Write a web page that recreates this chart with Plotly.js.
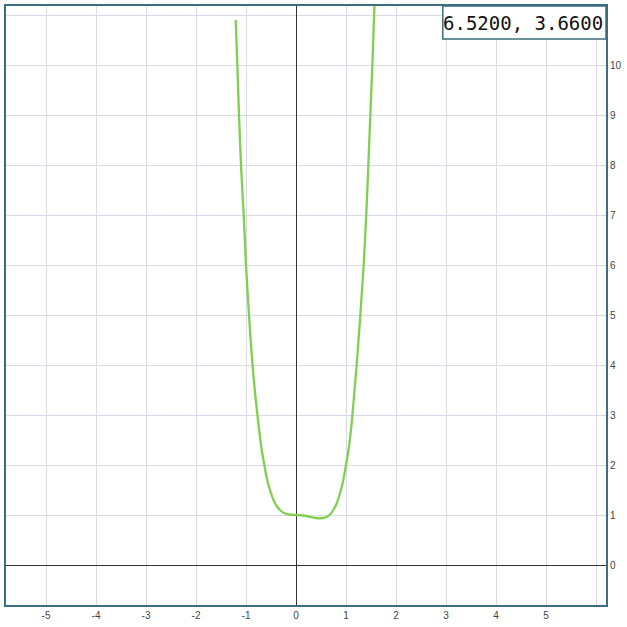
<!DOCTYPE html>
<html>
<head>
<meta charset="utf-8">
<script src="https://cdn.plot.ly/plotly-3.0.1.min.js"></script>
<style>html,body{margin:0;padding:0;background:#fff;}#chart{width:627px;height:627px;}</style>
</head>
<body>
<div id="chart"></div>
<script>
// Curve points
const curveX = [-1.206, -1.173, -1.14, -1.10, -1.046, -1.0, -0.94, -0.874, -0.82, -0.76, -0.70, -0.634, -0.58, -0.52, -0.45, -0.387, -0.30, -0.22, -0.1, 0, 0.1, 0.2, 0.3, 0.4, 0.5, 0.6, 0.68, 0.74, 0.8, 0.87, 0.94, 1.0, 1.05, 1.1, 1.15, 1.213, 1.287, 1.353, 1.405, 1.447, 1.487, 1.527, 1.567, 1.58];
const curveY = [10.9, 10.0, 9.0, 8.0, 7.0, 6.0, 5.0, 4.05, 3.45, 2.9, 2.4, 2.0, 1.72, 1.5, 1.3, 1.18, 1.08, 1.03, 1.005, 1.0, 0.995, 0.98, 0.96, 0.94, 0.935, 0.955, 1.01, 1.09, 1.2, 1.4, 1.67, 2.0, 2.3, 2.7, 3.25, 4.0, 5.0, 6.0, 7.0, 8.0, 9.0, 10.0, 11.13, 11.5];

const xTickVals = [-5, -4, -3, -2, -1, 0, 1, 2, 3, 4, 5, 6];
const xTickText = ['-5', '-4', '-3', '-2', '-1', '0', '1', '2', '3', '4', '5', ''];
const yTickVals = [0, 1, 2, 3, 4, 5, 6, 7, 8, 9, 10, 11];
const yTickText = ['0', '1', '2', '3', '4', '5', '6', '7', '8', '9', '10', ''];
const readout = '6.5200, 3.6600';

const trace = {
  x: curveX, y: curveY, type: 'scatter', mode: 'lines',
  line: {color: '#7fd04e', width: 2.3, shape: 'spline', smoothing: 0.6},
  hoverinfo: 'none'
};

const layout = {
  width: 627, height: 627,
  margin: {l: 6, r: 21, t: 6, b: 22, pad: 0},
  paper_bgcolor: '#ffffff', plot_bgcolor: '#ffffff',
  showlegend: false,
  font: {family: 'Liberation Sans, Arial, sans-serif', size: 10, color: '#444'},
  xaxis: {
    range: [-5.8, 6.2], tickmode: 'array', tickvals: xTickVals, ticktext: xTickText,
    showgrid: true, gridcolor: '#d9d9ea', gridwidth: 1,
    zeroline: true, zerolinecolor: '#333', zerolinewidth: 1,
    showline: true, mirror: true, linecolor: '#3b6e7e', linewidth: 2,
    ticks: '', fixedrange: true
  },
  yaxis: {
    range: [-0.8, 11.18], side: 'right', tickmode: 'array', tickvals: yTickVals, ticktext: yTickText,
    showgrid: true, gridcolor: '#d9d9ea', gridwidth: 1,
    zeroline: true, zerolinecolor: '#333', zerolinewidth: 1,
    showline: true, mirror: true, linecolor: '#3b6e7e', linewidth: 2,
    ticks: '', fixedrange: true
  },
  shapes: [{
    type: 'rect', xref: 'paper', yref: 'paper',
    x0: 0.728, x1: 1.0, y0: 0.945, y1: 1.0,
    line: {color: '#3b6e7e', width: 1.5}, fillcolor: '#ffffff', layer: 'above'
  }],
  annotations: [{
    xref: 'paper', yref: 'paper', x: 0.998, y: 0.972,
    xanchor: 'right', yanchor: 'middle', showarrow: false,
    text: readout,
    font: {family: 'DejaVu Sans Mono, monospace', size: 19, color: '#111'}
  }]
};

Plotly.newPlot('chart', [trace], layout, {staticPlot: true, displayModeBar: false});
</script>
</body>
</html>
